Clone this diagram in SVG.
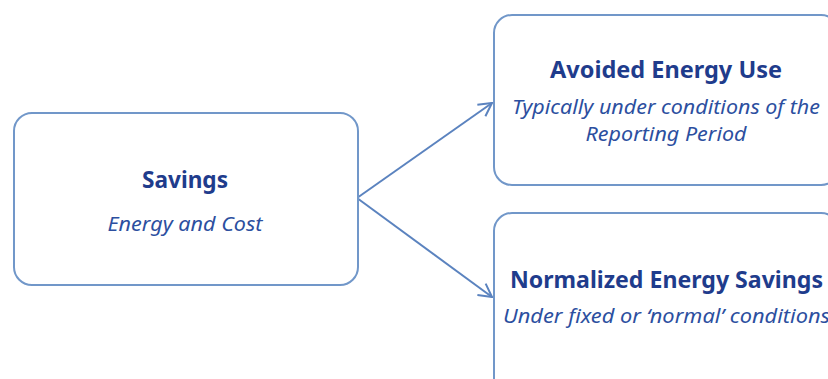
<svg xmlns="http://www.w3.org/2000/svg" width="828" height="379" viewBox="0 0 828 379">
<style>
.box{fill:#ffffff;stroke:#7197c9;stroke-width:2}
.title{font-family:"Noto Sans","Open Sans",sans-serif;font-weight:bold;font-size:24px;fill:#1f3c8c;text-anchor:middle}
.sub{font-family:"Noto Sans","Open Sans",sans-serif;font-style:italic;font-size:20px;fill:#2c4f9f;text-anchor:middle}
.conn{stroke:#5b83bf;stroke-width:2;fill:none}
</style>
<defs>
<marker id="arr" viewBox="0 0 16 16" refX="15" refY="8" markerWidth="16" markerHeight="16" markerUnits="userSpaceOnUse" orient="auto">
<path d="M2,1 L15,8 L2,15" fill="none" stroke="#5b83bf" stroke-width="2"/>
</marker>
</defs>
<rect width="828" height="379" fill="#ffffff"/>
<g id="connectors">
<line class="conn" x1="357" y1="198" x2="492" y2="103" marker-end="url(#arr)"/>
<line class="conn" x1="357" y1="198" x2="492" y2="297" marker-end="url(#arr)"/>
</g>
<g id="savings">
<rect class="box" x="14" y="113" width="344" height="172" rx="18"/>
<text class="title" x="185" y="188" textLength="86" lengthAdjust="spacingAndGlyphs">Savings</text>
<text class="sub" x="185" y="231" textLength="155" lengthAdjust="spacingAndGlyphs">Energy and Cost</text>
</g>
<g id="avoided">
<rect class="box" x="494" y="15" width="345" height="170" rx="18"/>
<text class="title" x="666" y="78" textLength="232" lengthAdjust="spacingAndGlyphs">Avoided Energy Use</text>
<text class="sub" x="666" y="114" textLength="308" lengthAdjust="spacingAndGlyphs">Typically under conditions of the</text>
<text class="sub" x="666" y="141" textLength="161" lengthAdjust="spacingAndGlyphs">Reporting Period</text>
</g>
<g id="normalized">
<rect class="box" x="494" y="213" width="345" height="190" rx="18"/>
<text class="title" x="666.5" y="288" textLength="313" lengthAdjust="spacingAndGlyphs">Normalized Energy Savings</text>
<text class="sub" x="666.5" y="323" textLength="327" lengthAdjust="spacingAndGlyphs">Under fixed or ‘normal’ conditions</text>
</g>
</svg>
